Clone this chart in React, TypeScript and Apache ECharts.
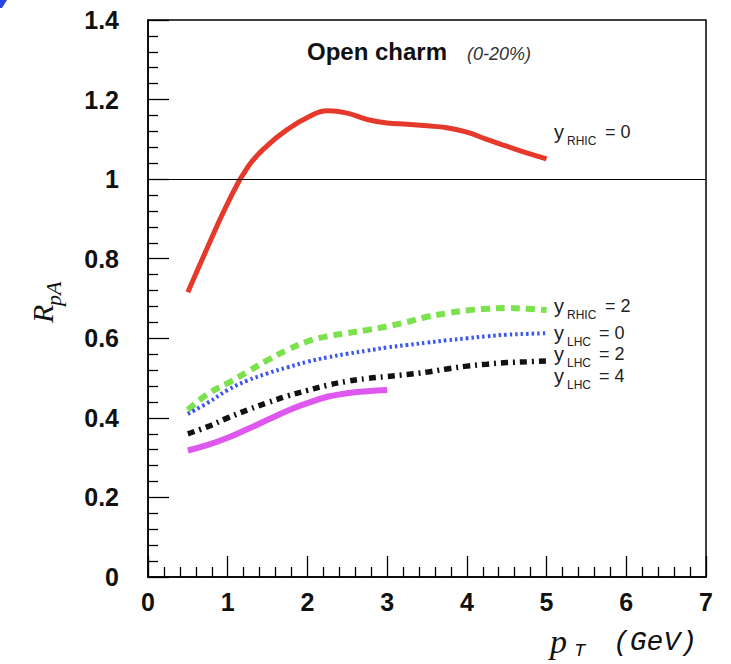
import React, { useEffect, useRef } from "react";
import * as echarts from "echarts";

const pT = [0.5, 0.75, 1, 1.25, 1.5, 1.75, 2, 2.25, 2.5, 2.75, 3, 3.25, 3.5, 3.75, 4, 4.25, 4.5, 4.75, 5];
const pTShort = [0.5, 0.75, 1, 1.25, 1.5, 1.75, 2, 2.25, 2.5, 2.75, 3];

const rhic0 = [0.716, 0.83, 0.94, 1.03, 1.085, 1.125, 1.155, 1.172, 1.166, 1.15, 1.141, 1.138, 1.134, 1.129, 1.118, 1.1, 1.083, 1.066, 1.051];
const rhic2 = [0.42, 0.46, 0.487, 0.516, 0.545, 0.571, 0.592, 0.605, 0.613, 0.621, 0.63, 0.641, 0.654, 0.663, 0.67, 0.674, 0.676, 0.674, 0.671];
const lhc0 = [0.41, 0.438, 0.47, 0.494, 0.512, 0.527, 0.541, 0.552, 0.561, 0.569, 0.577, 0.583, 0.589, 0.595, 0.6, 0.605, 0.609, 0.611, 0.613];
const lhc2 = [0.36, 0.378, 0.4, 0.42, 0.438, 0.455, 0.469, 0.482, 0.492, 0.499, 0.504, 0.509, 0.515, 0.523, 0.53, 0.535, 0.539, 0.541, 0.543];
const lhc4 = [0.318, 0.332, 0.35, 0.372, 0.395, 0.418, 0.437, 0.453, 0.462, 0.467, 0.47];

const curveLabels = [
  { sub: "RHIC", val: "= 0", top: 125 },
  { sub: "RHIC", val: "= 2", top: 299 },
  { sub: "LHC", val: "= 0", top: 326 },
  { sub: "LHC", val: "= 2", top: 347 },
  { sub: "LHC", val: "= 4", top: 369 },
];

const zip = (xs: number[], ys: number[]) => xs.map((x, i) => [x, ys[i]]);

export default function App() {
  const ref = useRef<HTMLDivElement>(null);
  useEffect(() => {
    document.body.style.margin = "0";
    const chart = echarts.init(ref.current!, null, { renderer: "svg" });
    const font = "'Liberation Sans', Arial, sans-serif";
    const serif = "'Liberation Serif', serif";
    const mono = "'Liberation Mono', monospace";
    const labelGraphics: any[] = [];
    curveLabels.forEach((c) => {
      const valX = c.sub === "RHIC" ? 51 : 45;
      labelGraphics.push({
        type: "group",
        x: 554,
        y: c.top,
        children: [
          { type: "text", x: 0, y: -3, style: { text: "y", font: `20px ${font}`, fill: "#222", textVerticalAlign: "top" } },
          { type: "text", x: 13, y: 10, style: { text: c.sub, font: `12px ${font}`, fill: "#222", textVerticalAlign: "top" } },
          { type: "text", x: valX, y: -2, style: { text: c.val, font: `18px ${font}`, fill: "#222", textVerticalAlign: "top" } },
        ],
      });
    });
    const line = (name: string, data: number[][], color: string, width: number, type: any) => ({
      name,
      type: "line",
      data,
      smooth: 0.45,
      showSymbol: false,
      symbol: "none",
      lineStyle: { color, width, type, cap: "butt" },
      silent: true,
    });
    const axisCommon = {
      axisLine: { show: true, lineStyle: { color: "#000", width: 1.5 } },
      axisTick: { show: true, inside: true, length: 21, lineStyle: { color: "#000", width: 1.3 } },
      minorTick: { show: true, splitNumber: 5, length: 10, lineStyle: { color: "#000", width: 1.3 } },
      splitLine: { show: false },
    };
    chart.setOption({
      animation: false,
      backgroundColor: "#fff",
      grid: { left: 148, right: 25, top: 20, bottom: 87, show: true, borderColor: "#000", borderWidth: 1.5, containLabel: false },
      xAxis: {
        type: "value",
        min: 0,
        max: 7,
        interval: 1,
        ...axisCommon,
        axisLabel: { fontSize: 25, fontWeight: "bold", fontFamily: font, color: "#111", margin: 12 },
      },
      yAxis: {
        type: "value",
        min: 0,
        max: 1.4,
        interval: 0.2,
        ...axisCommon,
        axisLabel: { fontSize: 25, fontWeight: "bold", fontFamily: font, color: "#111", margin: 29 },
      },
      series: [
        {
          ...line("y_RHIC = 0", zip(pT, rhic0), "#e53a2b", 5, "solid"),
          markLine: {
            silent: true,
            symbol: "none",
            label: { show: false },
            lineStyle: { color: "#000", width: 1.2, type: "solid" },
            data: [{ yAxis: 1 }],
          },
        },
        line("y_RHIC = 2", zip(pT, rhic2), "#7be24e", 6, [9, 6]),
        line("y_LHC = 0", zip(pT, lhc0), "#3a55f0", 4, [2.5, 3]),
        line("y_LHC = 2", zip(pT, lhc2), "#111", 5.5, [7, 5, 2, 5]),
        line("y_LHC = 4", zip(pTShort, lhc4), "#de57ee", 6, "solid"),
      ],
      graphic: [
        { type: "polygon", shape: { points: [[0, 0], [7, 0], [2, 8], [0, 8]] }, style: { fill: "#2a44e8" } },
        { type: "text", x: 307, y: 39, style: { text: "Open charm", font: `bold 24px ${font}`, fill: "#111" } },
        { type: "text", x: 467, y: 45, style: { text: "(0-20%)", font: `italic 18px ${font}`, fill: "#333" } },
        ...labelGraphics,
        {
          type: "group",
          x: 0,
          y: 323,
          rotation: Math.PI / 2,
          children: [
            { type: "text", x: 0, y: 42, style: { text: "R", font: `italic 30px ${serif}`, fill: "#111", textVerticalAlign: "middle" } },
            { type: "text", x: 17, y: 53, style: { text: "pA", font: `italic 22px ${serif}`, fill: "#111", textVerticalAlign: "middle" } },
          ],
        },
        { type: "text", x: 550, y: 641, style: { text: "p", font: `italic 34px ${serif}`, fill: "#111", textVerticalAlign: "middle" } },
        { type: "text", x: 574, y: 651, style: { text: "T", font: `italic 19px ${mono}`, fill: "#111", textVerticalAlign: "middle" } },
        { type: "text", x: 613, y: 642, style: { text: "(GeV)", font: `italic 28px ${mono}`, fill: "#111", textVerticalAlign: "middle" } },
      ],
    });
    return () => chart.dispose();
  }, []);
  return <div ref={ref} style={{ position: "absolute", left: 0, top: 0, width: 731, height: 664 }} />;
}
